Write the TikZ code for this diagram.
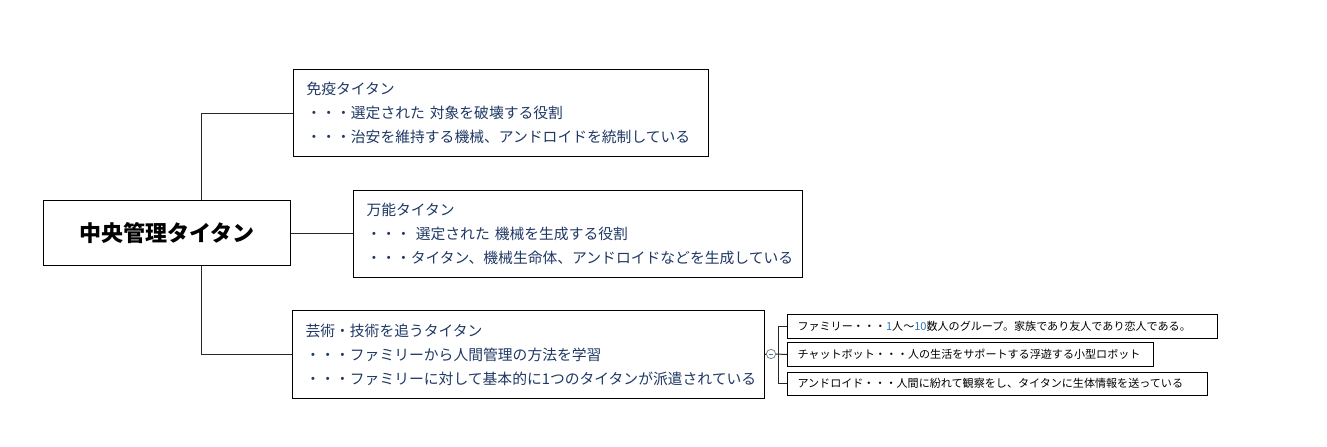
\documentclass[tikz,border=0pt]{standalone}
\usepackage{fontspec}
\setmainfont{Noto Sans CJK JP}
\definecolor{navy}{RGB}{31,56,100}
\definecolor{numblue}{RGB}{46,117,182}
\definecolor{linegray}{RGB}{40,40,40}
\tikzset{
  lbox/.style={draw=black, line width=0.75pt, rectangle, anchor=north west, align=left,
    inner xsep=9.75pt, inner ysep=0pt, font=\fontsize{11.1pt}{18pt}\selectfont, text=navy},
  sbox/.style={draw=black, line width=0.75pt, rectangle, anchor=north west, align=left,
    inner xsep=7.5pt, inner ysep=0pt, font=\fontsize{8.3pt}{10pt}\selectfont, text=black},
  cbox/.style={draw=black, line width=0.75pt, rectangle, anchor=north west, align=center,
    inner sep=0pt, font=\fontsize{16.5pt}{20pt}\selectfont\bfseries, text=black},
  conn/.style={line width=0.75pt, draw=linegray},
}
\begin{document}
\begin{tikzpicture}[x=0.75pt,y=-0.75pt]
\useasboundingbox (0,0) rectangle (1327,446);
% central
\node[cbox, minimum width=185.25pt, minimum height=48.75pt] (c) at (43,200) {中央管理タイタン};
% level 2
\node[lbox, text width=291.75pt, minimum height=65.25pt] (b1) at (293,69)
  {免疫タイタン\\・・・選定された~対象を破壊する役割\\・・・治安を維持する機械、アンドロイドを統制している};
\node[lbox, text width=317.25pt, minimum height=65.25pt] (b2) at (353,190)
  {万能タイタン\\・・・~選定された~機械を生成する役割\\・・・タイタン、機械生命体、アンドロイドなどを生成している};
\node[lbox, text width=334.5pt, minimum height=66pt] (b3) at (292,310)
  {芸術・技術を追うタイタン\\・・・ファミリーから人間管理の方法を学習\\・・・ファミリーに対して基本的に1つのタイタンが派遣されている};
% level 3
\node[sbox, text width=307.5pt, minimum height=18pt] (sa) at (787,314)
  {ファミリー・・・{\color{numblue}1}人～{\color{numblue}10}数人のグループ。家族であり友人であり恋人である。};
\node[sbox, text width=259.5pt, minimum height=18pt] (sb) at (787,342)
  {チャットボット・・・人の生活をサポートする浮遊する小型ロボット};
\node[sbox, text width=300pt, minimum height=17.25pt] (sc) at (787,371.5)
  {アンドロイド・・・人間に紛れて観察をし、タイタンに生体情報を送っている};
% hub coordinates
\coordinate (jx) at (201,232);
\coordinate (br) at (778,354);
% connectors level 1 -> 2
\draw[conn] (b1.west) -| (jx |- c.north);
\draw[conn] (b3.west) -| (jx |- c.south);
\draw[conn] (c.east) -- (c.east -| b2.west);
% collapse marker
\node[circle, draw=gray, line width=0.6pt, minimum size=7pt, inner sep=0pt] (circ) at (771,354) {};
\draw[numblue, line width=0.6pt] ([xshift=-1.8pt]circ.center) -- ([xshift=1.8pt]circ.center);
\draw[conn] (b3.east) -- (circ.west);
\draw[conn] (circ.east) -- (sb.west);
\draw[conn] (sa.west) -- (sa.west -| br) -- (sc.west -| br) -- (sc.west);
\end{tikzpicture}
\end{document}
